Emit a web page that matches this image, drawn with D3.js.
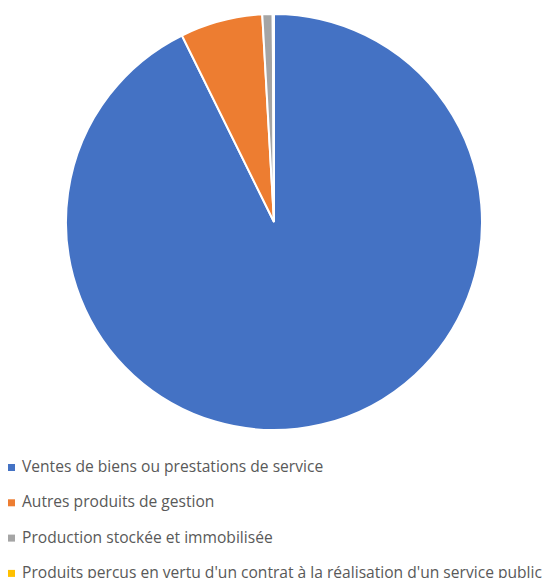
<!DOCTYPE html>
<html>
<head>
<meta charset="utf-8">
<script src="https://cdn.jsdelivr.net/npm/d3@7"></script>
<style>
  body { margin: 0; background: #fff; }
</style>
</head>
<body>
<div id="chart"></div>
<script>
const categories = [
    "Ventes de biens ou prestations de service",
    "Autres produits de gestion",
    "Production stockée et immobilisée",
    "Produits perçus en vertu d'un contrat à la réalisation d'un service public"
];
const values = [92.7, 6.4, 0.8, 0.1];
const colors = ["#4472C4", "#ED7D31", "#A5A5A5", "#FFC000"];

const width = 548, height = 578;
const cx = 274, cy = 222, radius = 208;

const svg = d3.select("#chart").append("svg")
    .attr("width", width)
    .attr("height", height);

const data = categories.map((c, i) => ({ name: c, value: values[i], color: colors[i] }));

// pie starts at 12 o'clock, clockwise, no sorting
const pie = d3.pie().sort(null).value(d => d.value);
const arc = d3.arc().innerRadius(0).outerRadius(radius);

const g = svg.append("g")
    .attr("transform", "translate(" + cx + "," + cy + ")");

g.selectAll("path")
    .data(pie(data))
    .enter().append("path")
    .attr("d", arc)
    .attr("fill", d => d.data.color)
    .attr("stroke", "#fff")
    .attr("stroke-width", 2);

// legend
const legend = svg.append("g")
    .attr("transform", "translate(8,467)");

const rowH = 35.3;
const item = legend.selectAll("g")
    .data(data)
    .enter().append("g")
    .attr("transform", (d, i) => "translate(0," + (i * rowH) + ")");

item.append("rect")
    .attr("x", 0)
    .attr("y", -3)
    .attr("width", 7)
    .attr("height", 7)
    .attr("fill", d => d.color);

item.append("text")
    .attr("x", 14)
    .attr("y", 5)
    .attr("font-family", "'Open Sans', sans-serif")
    .attr("font-size", 15.6)
    .attr("fill", "#595959")
    .text(d => d.name);
</script>
</body>
</html>
